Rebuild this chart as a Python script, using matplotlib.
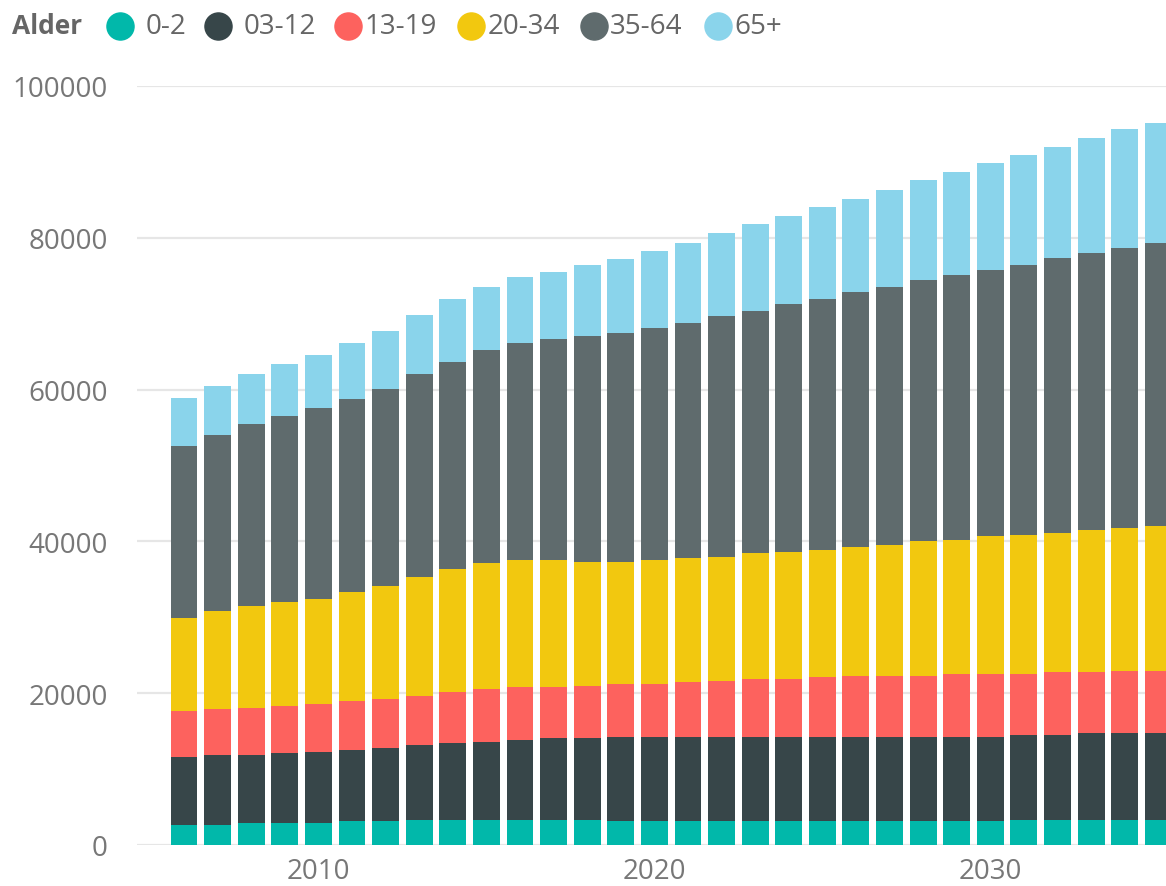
#stacked population bars per age group

import matplotlib
matplotlib.use("Agg")
import matplotlib.pyplot as plt
from matplotlib.lines import Line2D
import numpy as np


#data
years = list(range(2006, 2036))

ageGroups = ["0-2", "03-12", "13-19", "20-34", "35-64", "65+"]

age0_2 = [2680, 2680, 2900, 2900, 2900, 3120, 3120, 3340, 3340, 3340,
          3340, 3340, 3340, 3120, 3120, 3120, 3120, 3120, 3120, 3120,
          3120, 3120, 3120, 3120, 3120, 3340, 3340, 3340, 3340, 3340]

age3_12 = [8960, 9130, 8910, 9180, 9400, 9400, 9620, 9840, 10060, 10270,
           10490, 10710, 10710, 11150, 11150, 11150, 11150, 11150, 11150, 11150,
           11150, 11150, 11150, 11150, 11150, 11150, 11150, 11370, 11370, 11370]

age13_19 = [6010, 6060, 6280, 6230, 6230, 6450, 6450, 6490, 6710, 6940,
            6940, 6720, 6940, 6940, 6940, 7160, 7380, 7600, 7600, 7820,
            8040, 8040, 8040, 8260, 8260, 8040, 8260, 8040, 8260, 8260]

age20_34 = [12300, 12960, 13400, 13660, 13880, 14320, 14980, 15640, 16300, 16560,
            16780, 16780, 16340, 16120, 16340, 16340, 16340, 16560, 16780, 16780,
            17000, 17220, 17700, 17700, 18140, 18360, 18360, 18800, 18800, 19020]

age35_64 = [22580, 23230, 23930, 24550, 25210, 25470, 25910, 26790, 27270, 28150,
            28590, 29070, 29690, 30130, 30610, 31050, 31710, 31970, 32630, 33070,
            33550, 33990, 34390, 34820, 35090, 35530, 36190, 36450, 36890, 37320]

age65plus = [6410, 6460, 6680, 6900, 6940, 7340, 7600, 7770, 8210, 8210,
             8650, 8870, 9350, 9790, 10040, 10490, 10980, 11370, 11640, 12070,
             12250, 12730, 13170, 13660, 14050, 14490, 14710, 15150, 15630, 15860]

yTicks = [0, 20000, 40000, 60000, 80000, 100000]
xTicks = [2010, 2020, 2030]

colours = ["#01B8AA", "#374649", "#FD625E", "#F2C80F", "#5F6B6D", "#8AD4EB"]

series = [age0_2, age3_12, age13_19, age20_34, age35_64, age65plus]


plt.rcParams['font.family'] = ['Open Sans', 'DejaVu Sans']

W, H = 1166, 887
fig = plt.figure(figsize=(W / 100, H / 100), dpi=100)
ax = fig.add_axes([137 / W, (H - 846) / H, (W - 137) / W, (846 - 87) / H])

#stack the bars
bottom = np.zeros(len(years))
for vals, col in zip(series, colours):
    ax.bar(years, vals, width=0.8, bottom=bottom, color=col, edgecolor="none", zorder=3)
    bottom += np.array(vals)

ax.set_xlim(2004.6, 2035.23)
ax.set_ylim(0, 100000)
ax.set_yticks(yTicks)
ax.set_yticklabels([str(t) for t in yTicks])
ax.set_xticks(xTicks)
ax.set_xticklabels([str(t) for t in xTicks])

ax.grid(axis="y", color="#e6e6e6", linewidth=1.6, zorder=0)
ax.tick_params(axis="y", length=0, pad=21, labelsize=20, labelcolor="#777777")
ax.tick_params(axis="x", length=0, pad=8.5, labelsize=20, labelcolor="#777777")
for s in ax.spines.values():
    s.set_visible(False)

#legend row along the top
legendY = 1 - 27 / H
fig.text(12 / W, legendY, "Alder", fontsize=19, fontweight="bold", color="#666666",
         ha="left", va="center")
circleX = [120, 218, 348, 471, 594, 718]
textX = [146, 244, 364, 488, 610, 734]
for cx, tx, lab, col in zip(circleX, textX, ageGroups, colours):
    fig.add_artist(Line2D([cx / W], [legendY], marker="o", markersize=19.5,
                          color=col, linestyle="none", transform=fig.transFigure))
    fig.text(tx / W, legendY, lab, fontsize=20, color="#666666",
             ha="left", va="center")

fig.savefig("out.png", dpi=100)
